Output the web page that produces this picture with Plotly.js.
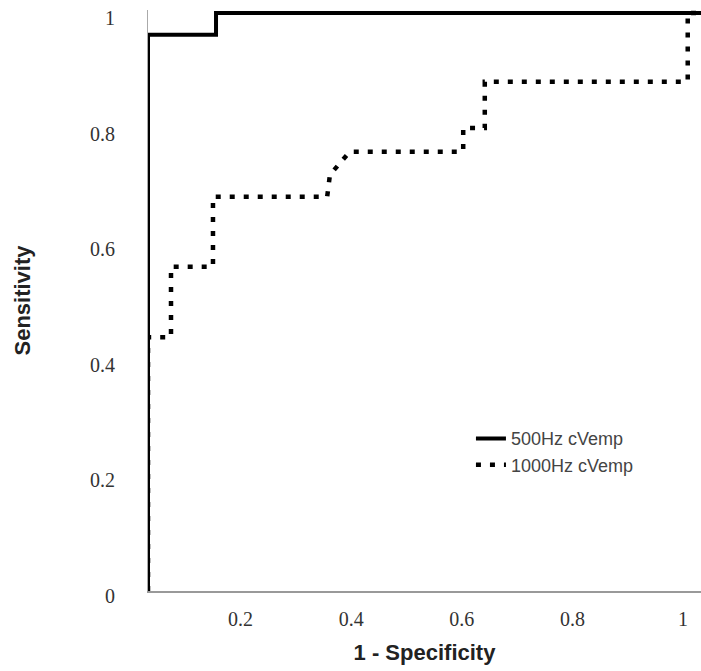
<!DOCTYPE html>
<html>
<head>
<meta charset="utf-8">
<script src="https://cdn.plot.ly/plotly-3.0.1.min.js"></script>
<style>html,body{margin:0;padding:0;background:#fff;}#chart{width:701px;height:671px;}</style>
</head>
<body>
<div id="chart"></div>
<script>
// ROC curve data (1 - specificity, sensitivity)
const seriesNames = ["500Hz cVemp", "1000Hz cVemp"];
const fpr500  = [0, 0,     0.123, 0.123, 1];
const sens500 = [0, 0.962, 0.962, 1,     1];
const fpr1000  = [0, 0,     0.0416, 0.0416, 0.1175, 0.1175, 0.324, 0.329, 0.365, 0.570, 0.570, 0.609, 0.609, 0.976, 0.976, 1];
const sens1000 = [0, 0.439, 0.439,  0.561,  0.561,  0.682,  0.682, 0.720, 0.760, 0.760, 0.801, 0.801, 0.881, 0.881, 1,     1];
const tickVals = [0, 0.2, 0.4, 0.6, 0.8, 1];
const tickText = ["0", "0.2", "0.4", "0.6", "0.8", "1"];

const traces = [
  {x: fpr500, y: sens500, name: seriesNames[0], mode: "lines",
   line: {color: "#000", width: 4}},
  {x: fpr1000, y: sens1000, name: seriesNames[1], mode: "lines",
   line: {color: "#000", width: 4.5, dash: "5px,9px"}}
];

const layout = {
  width: 701, height: 671,
  margin: {l: 148, r: 0, t: 10, b: 80},
  paper_bgcolor: "#fff", plot_bgcolor: "#fff",
  showlegend: true,
  legend: {x: 0.584, y: 0.294, xanchor: "left", yanchor: "top",
           bgcolor: "rgba(0,0,0,0)",
           font: {family: "Liberation Sans, Arial, sans-serif", size: 18, color: "#444"}},
  xaxis: {range: [0, 1], tickvals: tickVals.slice(1), ticktext: tickText.slice(1),
          showgrid: false, zeroline: false, showline: true, linecolor: "#999", linewidth: 2,
          ticks: "", ticklabelstandoff: 9, ticklabelshift: -18,
          tickfont: {family: "Liberation Serif, Times New Roman, serif", size: 20, color: "#333"},
          title: {text: "1 - Specificity", standoff: 16,
                  font: {family: "Liberation Sans, Arial, sans-serif", size: 22, color: "#222", weight: "bold"}}},
  yaxis: {range: [0, 1.005], tickvals: tickVals, ticktext: tickText,
          showgrid: false, zeroline: false, showline: true, linecolor: "#aaa", linewidth: 1,
          ticks: "", ticklabelstandoff: 28, ticklabelshift: 5,
          tickfont: {family: "Liberation Serif, Times New Roman, serif", size: 20, color: "#333"},
          title: {text: "Sensitivity", standoff: 53,
                  font: {family: "Liberation Sans, Arial, sans-serif", size: 22, color: "#222", weight: "bold"}}}
};

Plotly.newPlot("chart", traces, layout, {displayModeBar: false, staticPlot: true});
</script>
</body>
</html>
